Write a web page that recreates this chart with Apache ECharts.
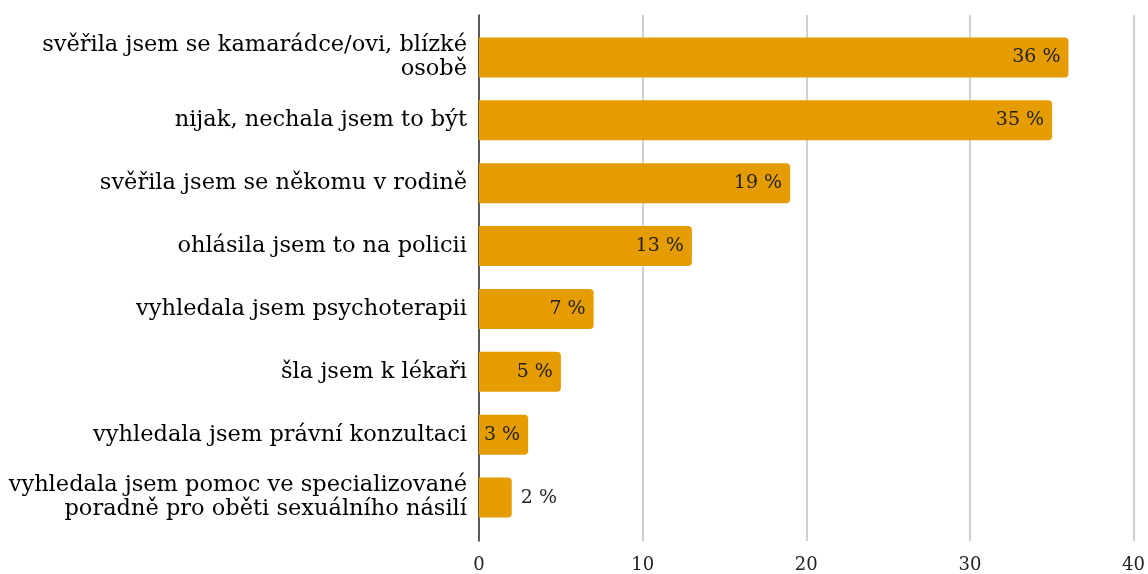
<!DOCTYPE html>
<html>
<head>
<meta charset="utf-8">
<script src="https://cdn.jsdelivr.net/npm/echarts@6/dist/echarts.min.js"></script>
<style>
  html, body { margin: 0; padding: 0; background: #fff; }
  #chart { width: 1148px; height: 574px; }
</style>
</head>
<body>
<div id="chart"></div>
<script>
// kategorie (odshora dolů) a hodnoty v %
const categories = [
  'svěřila jsem se kamarádce/ovi, blízké\nosobě',
  'nijak, nechala jsem to být',
  'svěřila jsem se někomu v rodině',
  'ohlásila jsem to na policii',
  'vyhledala jsem psychoterapii',
  'šla jsem k lékaři',
  'vyhledala jsem právní konzultaci',
  'vyhledala jsem pomoc ve specializované\nporadně pro oběti sexuálního násilí'
];
const values = [36, 35, 19, 13, 7, 5, 3, 2];
const axisTicks = [0, 10, 20, 30, 40];

const FONT = 'DejaVu Serif';
const BAR = '#e49c00';

const chart = echarts.init(document.getElementById('chart'));

// Category axis draws bottom-up, so reverse
const cats = categories.slice().reverse();
const vals = values.slice().reverse();

const option = {
  animation: false,
  textStyle: { fontFamily: FONT },
  grid: [
    // frame grid: gridlines, axis line, x labels
    { left: 479, right: 14, top: 15, bottom: 33 },
    // bar grid
    { left: 479, right: 14, top: 26, bottom: 45 }
  ],
  xAxis: [
    {
      gridIndex: 0,
      type: 'value',
      min: axisTicks[0],
      max: axisTicks[axisTicks.length - 1],
      interval: 10,
      axisLine: { show: false },
      axisTick: { show: false },
      splitLine: { lineStyle: { color: '#d0d0d0', width: 2 } },
      axisLabel: { color: '#222', fontSize: 18, fontFamily: FONT, margin: 15 }
    },
    {
      gridIndex: 1,
      type: 'value',
      min: axisTicks[0],
      max: axisTicks[axisTicks.length - 1],
      show: false
    }
  ],
  yAxis: [
    {
      gridIndex: 0,
      type: 'category',
      data: cats,
      axisLine: { show: true, lineStyle: { color: '#333', width: 1.5 } },
      axisTick: { show: false },
      axisLabel: { show: false },
      splitLine: { show: false }
    },
    {
      gridIndex: 1,
      type: 'category',
      data: cats,
      axisLine: { show: false },
      axisTick: { show: false },
      axisLabel: {
        color: '#000',
        fontSize: 22.5,
        fontFamily: FONT,
        margin: 12,
        lineHeight: 24,
        align: 'right'
      }
    }
  ],
  series: [
    {
      type: 'bar',
      xAxisIndex: 1,
      yAxisIndex: 1,
      barWidth: 40,
      data: vals.map(function (v) {
        const item = { value: v };
        if (v < 3) {
          item.label = { position: 'right', distance: 9 };
        }
        return item;
      }),
      itemStyle: { color: BAR, borderRadius: [0, 4, 4, 0] },
      label: {
        show: true,
        position: 'insideRight',
        distance: 8,
        color: '#222',
        fontSize: 19,
        fontFamily: FONT,
        formatter: function (p) { return p.value + ' %'; }
      }
    }
  ]
};

chart.setOption(option);
</script>
</body>
</html>
